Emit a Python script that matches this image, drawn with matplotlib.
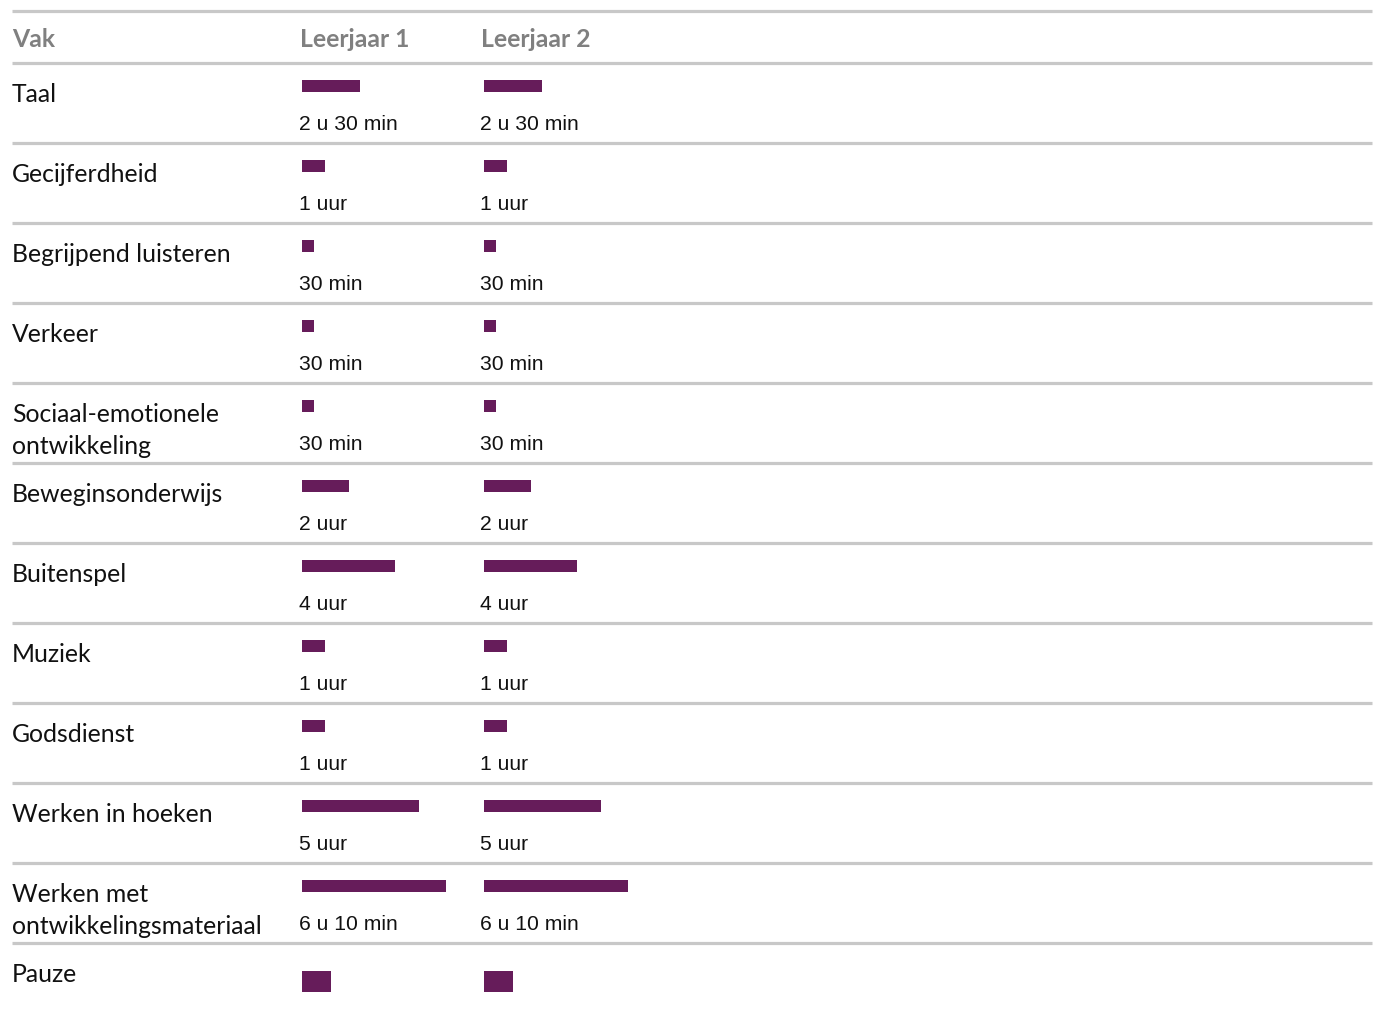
import matplotlib.pyplot as plt

# ---------- data ----------
subjects = [
    "Taal",
    "Gecijferdheid",
    "Begrijpend luisteren",
    "Verkeer",
    "Sociaal-emotionele\nontwikkeling",
    "Beweginsonderwijs",
    "Buitenspel",
    "Muziek",
    "Godsdienst",
    "Werken in hoeken",
    "Werken met\nontwikkelingsmateriaal",
    "Pauze",
]
hours_lj1 = [2.5, 1, 0.5, 0.5, 0.5, 2, 4, 1, 1, 5, 6 + 10 / 60, 1.25]
hours_lj2 = [2.5, 1, 0.5, 0.5, 0.5, 2, 4, 1, 1, 5, 6 + 10 / 60, 1.25]
labels_lj1 = ["2 u 30 min", "1 uur", "30 min", "30 min", "30 min", "2 uur",
              "4 uur", "1 uur", "1 uur", "5 uur", "6 u 10 min", ""]
labels_lj2 = ["2 u 30 min", "1 uur", "30 min", "30 min", "30 min", "2 uur",
              "4 uur", "1 uur", "1 uur", "5 uur", "6 u 10 min", ""]
headers = ["Vak", "Leerjaar 1", "Leerjaar 2"]

BAR = "#661c5a"
GRID = "#c8c8c8"
HEAD = "#808080"
W, H = 1378, 1012
PX_PER_HOUR = 23.3

fig = plt.figure(figsize=(W / 100, H / 100), dpi=100)

# layout axes in pixel coordinates for text and rules
lay = fig.add_axes([0, 0, 1, 1])
lay.set_xlim(0, W)
lay.set_ylim(H, 0)
lay.axis("off")

row_top = 64
row_h = 80
n = len(subjects)

# horizontal rules
for y in [12] + [row_top + i * row_h for i in range(n)]:
    lay.plot([12, 1372], [y, y], color=GRID, lw=2.3, solid_capstyle="butt")

# header
for txt, x in zip(headers, [12, 300, 481]):
    lay.text(x, 47, txt, fontsize=17.8, fontweight="bold", color=HEAD,
             family="Lato", va="baseline", ha="left")

# subject labels (one text per line, 32 px apart)
for i, s in enumerate(subjects):
    top = row_top + i * row_h
    for j, line in enumerate(s.split("\n")):
        lay.text(12, top + 38 + 32 * j, line, fontsize=17.8, family="Lato",
                 color="#111111", va="baseline", ha="left")

# value labels
for labels, x in [(labels_lj1, 299), (labels_lj2, 480)]:
    for i, lab in enumerate(labels):
        top = row_top + i * row_h
        lay.text(x, top + 66, lab, fontsize=15.2, family="Liberation Sans",
                 color="#111111", va="baseline", ha="left")

# bar axes: x in hours, y in row index (row i centre at pixel 87 + 80 i)
ax_w = 200
ylim_top = (0 - 87) / row_h
ylim_bot = (H - 87) / row_h
for x0, hours in [(302, hours_lj1), (484, hours_lj2)]:
    ax = fig.add_axes([x0 / W, 0, ax_w / W, 1])
    ax.set_xlim(0, ax_w / PX_PER_HOUR)
    ax.set_ylim(ylim_bot, ylim_top)
    ax.axis("off")
    ax.patch.set_alpha(0)
    rows = list(range(n))
    main_rows = [r for r in rows if labels_lj1[r]]
    ax.barh(main_rows, [hours[r] for r in main_rows], height=12 / row_h,
            left=0, color=BAR)
    # pause row: taller block, a bit lower in the row
    extra = [r for r in rows if not labels_lj1[r]]
    ax.barh([r + 0.19 for r in extra], [hours[r] for r in extra],
            height=21 / row_h, left=0, color=BAR)

fig.savefig("out.png", dpi=100)
